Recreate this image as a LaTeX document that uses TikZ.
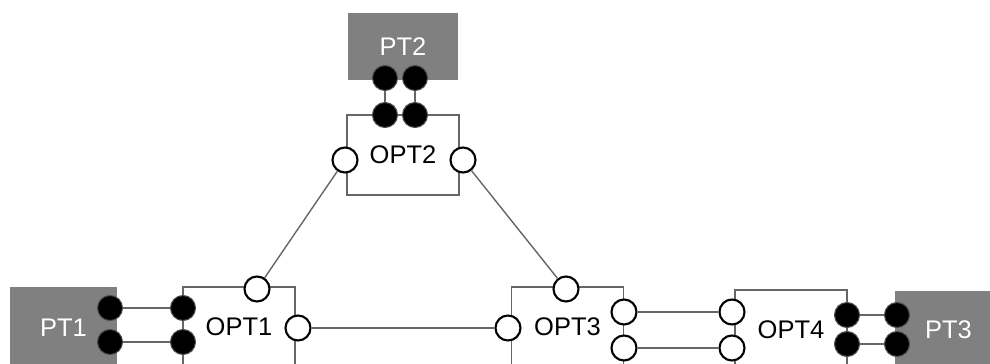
\documentclass[tikz,border=0pt]{standalone}
\usepackage{fontspec}
\setmainfont{Liberation Sans}
\usetikzlibrary{positioning}

\begin{document}
\begin{tikzpicture}[
		x=0.02cm, y=-0.02cm,
		font=\fontsize{14.5}{17}\selectfont,
		opt/.style={draw=black!60, line width=0.8pt, minimum width=2.24cm, minimum height=1.6cm, inner sep=0pt},
		ptbox/.style={fill=black!50, text=white, inner sep=0pt},
		port/.style={circle, draw=black, line width=1.2pt, fill=white, minimum size=0.5cm, inner sep=0pt},
		tap/.style={circle, draw=black!70, line width=0.6pt, fill=black, minimum size=0.5cm, inner sep=0pt},
		ln/.style={draw=black!60, line width=0.8pt}
	]

	\clip (0,0) rectangle (990,364);

	% end terminals
	\node[ptbox, minimum width=2.2cm, minimum height=1.34cm] (pt2) at (403,46.5) {PT2};
	\node[ptbox, minimum width=2.14cm, minimum height=1.64cm] (pt1) at (63.5,328) {PT1};
	\node[ptbox, minimum width=2.14cm, minimum height=1.56cm] (pt3) at (948.5,330) {PT3};

	% optical nodes
	\node[opt] (opt2) at (403,155) {OPT2};
	\node[opt] (opt1) at (239,327) {OPT1};
	\node[opt] (opt3) at (567.5,327) {OPT3};
	\node[opt] (opt4) at (791,330) {OPT4};

	% ring ports
	\node[port] (opt2l) at (345,160) {};
	\node[port] (opt2r) at (463,160) {};
	\node[port] (opt1t) at (257,289) {};
	\node[port] (opt1r) at (298,328) {};
	\node[port] (opt3t) at (566,289) {};
	\node[port] (opt3l) at (508,328) {};
	\node[port] (opt3a) at (624,312) {};
	\node[port] (opt3b) at (624,348) {};
	\node[port] (opt4a) at (732,312) {};
	\node[port] (opt4b) at (732,348) {};

	% client ports
	\node[tap] (pt2a) at (385,78) {};
	\node[tap] (pt2b) at (415,78) {};
	\node[tap] (opt2a) at (385,115) {};
	\node[tap] (opt2b) at (415,115) {};
	\node[tap] (pt1a) at (110,308) {};
	\node[tap] (pt1b) at (110,342) {};
	\node[tap] (opt1a) at (183,308) {};
	\node[tap] (opt1b) at (183,342) {};
	\node[tap] (opt4c) at (847,315) {};
	\node[tap] (opt4d) at (847,344) {};
	\node[tap] (pt3a) at (897,315) {};
	\node[tap] (pt3b) at (897,344) {};

	% fibre links
	\draw[ln] (opt2l) -- (opt1t);
	\draw[ln] (opt2r) -- (opt3t);
	\draw[ln] (opt1r) -- (opt3l);
	\draw[ln] (opt3a) -- (opt4a);
	\draw[ln] (opt3b) -- (opt4b);
	\draw[ln] (pt2a) -- (opt2a);
	\draw[ln] (pt2b) -- (opt2b);
	\draw[ln] (pt1a) -- (opt1a);
	\draw[ln] (pt1b) -- (opt1b);
	\draw[ln] (opt4c) -- (pt3a);
	\draw[ln] (opt4d) -- (pt3b);
\end{tikzpicture}
\end{document}
